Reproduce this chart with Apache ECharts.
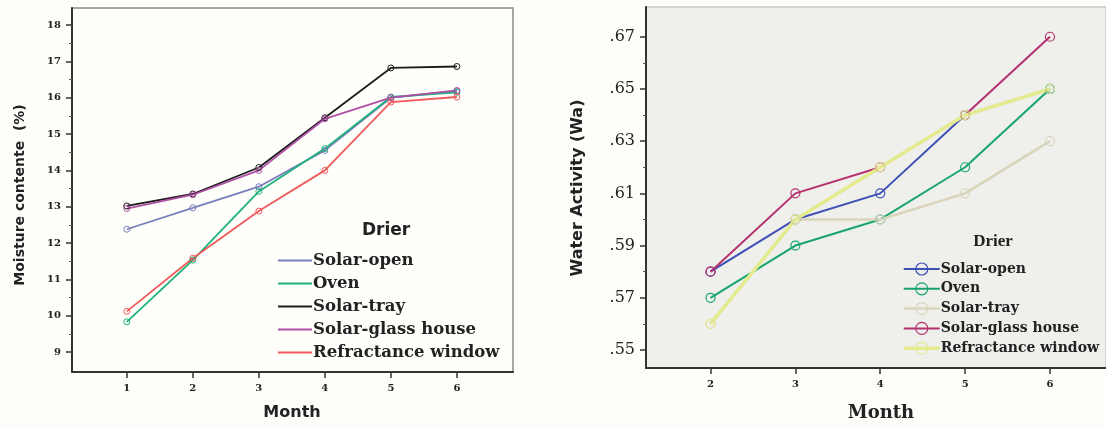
<!DOCTYPE html>
<html>
<head>
<meta charset="utf-8">
<script src="https://cdn.jsdelivr.net/npm/echarts@6/dist/echarts.min.js"></script>
<style>
  html, body { margin: 0; padding: 0; background: #fdfdfa; }
  #chart { width: 1106px; height: 427px; }
</style>
</head>
<body>
<div id="chart"></div>
<script>
// Drier types
const driers = ['Solar-open', 'Oven', 'Solar-tray', 'Solar-glass house', 'Refractance window'];

// Moisture content (%) by month 1..6
const monthsMoisture = [1, 2, 3, 4, 5, 6];
const moistureSolarOpen   = [12.38, 12.97, 13.55, 14.55, 16.00, 16.18];
const moistureOven        = [9.83, 11.53, 13.42, 14.60, 16.02, 16.15];
const moistureSolarTray   = [13.02, 13.35, 14.08, 15.45, 16.82, 16.86];
const moistureGlassHouse  = [12.95, 13.33, 14.00, 15.42, 16.00, 16.20];
const moistureRefractance = [10.12, 11.58, 12.88, 14.00, 15.88, 16.02];
const moistureTicks = [9, 10, 11, 12, 13, 14, 15, 16, 17, 18];
const moistureMinorTicks = [9.5, 10.5, 11.5, 12.5, 13.5, 14.5, 15.5, 16.5, 17.5, 18.5];

// Water activity (Wa) by month 2..6
const monthsWa = [2, 3, 4, 5, 6];
const waSolarOpen   = [0.58, 0.60, 0.61, 0.64, 0.65];
const waOven        = [0.57, 0.59, 0.60, 0.62, 0.65];
const waSolarTray   = [0.56, 0.60, 0.60, 0.61, 0.63];
const waGlassHouse  = [0.58, 0.61, 0.62, 0.64, 0.67];
const waRefractance = [0.56, 0.60, 0.62, 0.64, 0.65];
const waTicks = [0.55, 0.57, 0.59, 0.61, 0.63, 0.65, 0.67];
const waMinorTicks = [0.56, 0.58, 0.60, 0.62, 0.64, 0.66];

const moistureColors = ['#7a7ebd', '#1fb27b', '#1c1c1c', '#b04fa5', '#f05a5a'];
const waColors = ['#3e4fb5', '#17a56d', '#d9d5bb', '#b5306e', '#e4ea8e'];
const waWidths = [2, 2, 2.5, 2, 3.5];

const moistureData = [moistureSolarOpen, moistureOven, moistureSolarTray, moistureGlassHouse, moistureRefractance];
const waData = [waSolarOpen, waOven, waSolarTray, waGlassHouse, waRefractance];

const pair = (xs, ys) => xs.map((x, i) => [x, ys[i]]);

const serif = '"DejaVu Serif", "Liberation Serif", serif';
const timesLike = '"Liberation Serif", serif';
const sans = '"DejaVu Sans", "Liberation Sans", sans-serif';

const series = [];
// left panel: moisture content
moistureData.forEach((vals, i) => {
  series.push({
    name: driers[i], type: 'line', xAxisIndex: 0, yAxisIndex: 0,
    data: pair(monthsMoisture, vals),
    symbol: 'circle', symbolSize: 6,
    lineStyle: { color: moistureColors[i], width: 1.8 },
    itemStyle: { color: 'rgba(0,0,0,0)', borderColor: moistureColors[i], borderWidth: 1 },
    emphasis: { disabled: true }
  });
});
// right panel: water activity
waData.forEach((vals, i) => {
  series.push({
    name: driers[i], type: 'line', xAxisIndex: 1, yAxisIndex: 2,
    data: pair(monthsWa, vals),
    symbol: 'circle', symbolSize: 9,
    lineStyle: { color: waColors[i], width: waWidths[i] },
    itemStyle: { color: 'rgba(0,0,0,0)', borderColor: waColors[i], borderWidth: 1.2 },
    emphasis: { disabled: true }
  });
});

const tickLabel = (size) => ({ fontFamily: serif, fontWeight: 'bold', fontSize: size, color: '#222' });
const text = (x, y, str, font, rot) => ({
  type: 'text', x: x, y: y, rotation: rot || 0,
  style: { text: str, font: font, fill: '#222', align: 'center', verticalAlign: 'middle' }
});

const option = {
  animation: false,
  backgroundColor: '#fdfdfa',
  grid: [
    { left: 72, top: 8, width: 441, height: 364, show: true, backgroundColor: '#fefefb', borderColor: '#8a8a8a', borderWidth: 1.5 },
    { left: 646, top: 7, width: 460, height: 361, show: true, backgroundColor: '#efefec', borderColor: '#c8c8c4', borderWidth: 1.5 }
  ],
  xAxis: [
    {
      type: 'value', gridIndex: 0, min: 0.17, max: 6.85,
      axisLine: { onZero: false, lineStyle: { color: '#333', width: 2 } },
      axisTick: { customValues: monthsMoisture, length: 6, lineStyle: { color: '#333', width: 1.5 } },
      axisLabel: { customValues: monthsMoisture, margin: 11, ...tickLabel(10) },
      splitLine: { show: false }
    },
    {
      type: 'value', gridIndex: 1, min: 1.24, max: 6.66,
      axisLine: { onZero: false, lineStyle: { color: '#333', width: 2 } },
      axisTick: { customValues: monthsWa, length: 6, lineStyle: { color: '#333', width: 1.5 } },
      axisLabel: { customValues: monthsWa, margin: 11, ...tickLabel(10) },
      splitLine: { show: false }
    }
  ],
  yAxis: [
    {
      type: 'value', gridIndex: 0, min: 8.45, max: 18.47,
      axisLine: { show: true, onZero: false, lineStyle: { color: '#333', width: 2 } },
      axisTick: { show: true, customValues: moistureTicks, length: 6, lineStyle: { color: '#333', width: 1.5 } },
      axisLabel: { customValues: moistureTicks, margin: 11, ...tickLabel(10) },
      splitLine: { show: false }
    },
    {
      // minor ticks of the moisture axis
      type: 'value', gridIndex: 0, min: 8.45, max: 18.47, position: 'left',
      axisLine: { show: false },
      axisTick: { show: true, customValues: moistureMinorTicks, length: 3, lineStyle: { color: '#555', width: 1 } },
      axisLabel: { show: false },
      splitLine: { show: false }
    },
    {
      type: 'value', gridIndex: 1, min: 0.5431, max: 0.6814,
      axisLine: { show: true, onZero: false, lineStyle: { color: '#333', width: 2 } },
      axisTick: { show: true, customValues: waTicks, length: 6, lineStyle: { color: '#333', width: 1.5 } },
      axisLabel: {
        customValues: waTicks, margin: 11, fontFamily: serif, fontSize: 16, color: '#222',
        formatter: v => v.toFixed(2).replace(/^0/, '')
      },
      splitLine: { show: false }
    },
    {
      // minor ticks of the water activity axis
      type: 'value', gridIndex: 1, min: 0.5431, max: 0.6814, position: 'left',
      axisLine: { show: false },
      axisTick: { show: true, customValues: waMinorTicks, length: 3, lineStyle: { color: '#555', width: 1 } },
      axisLabel: { show: false },
      splitLine: { show: false }
    }
  ],
  legend: [
    {
      left: 273, top: 247, orient: 'vertical', itemWidth: 34, itemHeight: 14, itemGap: 6,
      selectedMode: false,
      textStyle: { fontFamily: serif, fontWeight: 'bold', fontSize: 16.5, color: '#222', padding: [0, 0, 0, -4] },
      data: driers.map((n, i) => ({
        name: n,
        icon: 'path://M0,0 L34,0 L34,2 L0,2 Z',
        itemStyle: { color: moistureColors[i], borderWidth: 0 }
      }))
    },
    {
      left: 897, top: 257, orient: 'vertical', itemWidth: 36, itemHeight: 15, itemGap: 5.8,
      selectedMode: false,
      textStyle: { fontFamily: serif, fontWeight: 'bold', fontSize: 14, color: '#222', padding: [0, 0, 0, -4] },
      data: driers.map((n, i) => ({
        name: n,
        itemStyle: { color: 'rgba(0,0,0,0)', borderColor: waColors[i], borderWidth: 1.2 },
        lineStyle: { color: waColors[i], width: waWidths[i] }
      }))
    }
  ],
  graphic: [
    text(20, 195, 'Moisture contente  (%)', 'bold 14px ' + sans, Math.PI / 2),
    text(292, 413, 'Month', 'bold 16px ' + sans),
    text(386, 231, 'Drier', 'bold 17px ' + sans),
    text(578, 188, 'Water Activity (Wa)', 'bold 16px ' + sans, Math.PI / 2),
    text(881, 413, 'Month', 'bold 18px ' + serif),
    text(993, 242, 'Drier', 'bold 17px ' + timesLike)
  ],
  series: series
};

const chart = echarts.init(document.getElementById('chart'), null, { renderer: 'canvas' });
chart.setOption(option);
</script>
</body>
</html>
